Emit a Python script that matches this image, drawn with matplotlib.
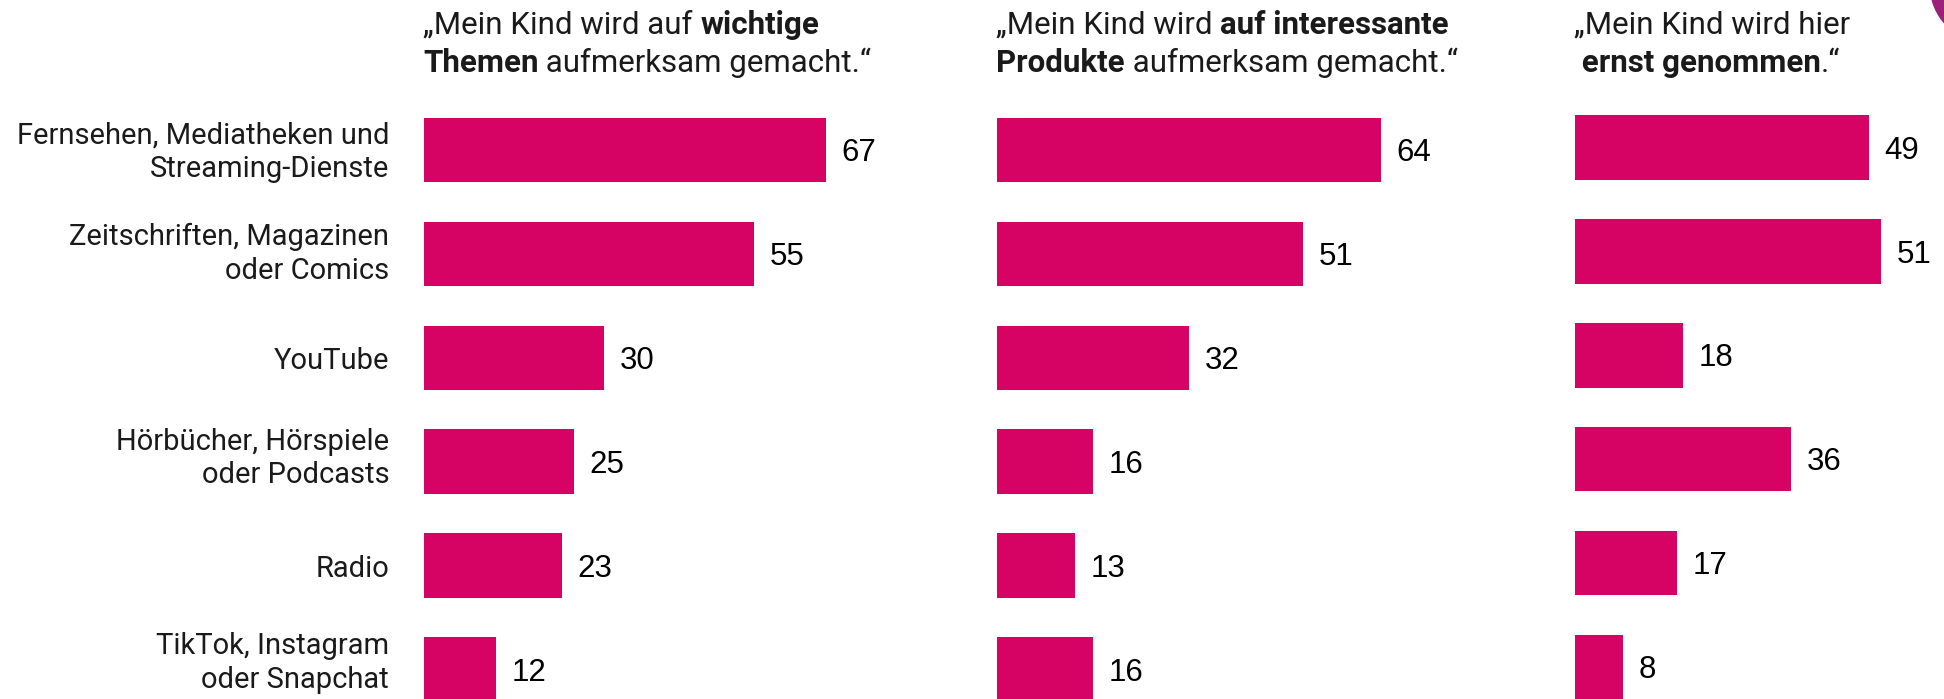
# Mediennutzung: drei Aussagen der Eltern, horizontale Balken
import matplotlib.pyplot as plt
from matplotlib.patches import Circle
from matplotlib.transforms import IdentityTransform

# Daten
categories = ["Fernsehen, Mediatheken und\nStreaming-Dienste",
              "Zeitschriften, Magazinen\noder Comics",
              "YouTube",
              "Hörbücher, Hörspiele\noder Podcasts",
              "Radio",
              "TikTok, Instagram\noder Snapchat"]
themen = [67, 55, 30, 25, 23, 12]
produkte = [64, 51, 32, 16, 13, 16]
ernst = [49, 51, 18, 36, 17, 8]

titles = [
    [[("„Mein Kind wird auf ", "normal"), ("wichtige", "bold")],
     [("Themen", "bold"), (" aufmerksam gemacht.“", "normal")]],
    [[("„Mein Kind wird ", "normal"), ("auf interessante", "bold")],
     [("Produkte", "bold"), (" aufmerksam gemacht.“", "normal")]],
    [[("„Mein Kind wird hier", "normal")],
     [(" ernst genommen", "bold"), (".“", "normal")]],
]

BAR = "#d70364"
TXT = "#1a1a1a"
W, H = 1944, 699

fig = plt.figure(figsize=(W / 100, H / 100), dpi=100)
fig.patch.set_facecolor("white")

left_px = [424, 997, 1575]
top_center = [150, 150, 147.5]
step = 103.9
series = [themen, produkte, ernst]

for i, vals in enumerate(series):
    ax = fig.add_axes([left_px[i] / W, 0, 480 / W, 1])
    ax.set_xlim(0, 80)
    c0 = top_center[i]
    ax.set_ylim((H - c0) / step, -c0 / step)
    ypos = range(len(vals))
    ax.barh(ypos, vals, height=0.62, color=BAR, clip_on=False)
    for y, v in zip(ypos, vals):
        ax.text(v + 2.6, y + 0.03, str(v), fontsize=22.5, color="black",
                family="Liberation Sans", va="center", ha="left")
    if i == 0:
        # zweizeilige Beschriftungen stehen etwas enger als die Balken
        for y, lab in zip(ypos, categories):
            yy = y * 0.983 + 0.02 if "\n" in lab else y + 0.03
            ax.text(-5.8, yy, lab, fontsize=21, color=TXT,
                    family="Roboto", ha="right", va="center",
                    linespacing=1.27)
    ax.axis("off")

    # Titel mit fett gesetzten Teilen
    tx = (left_px[i] - 1) / W
    for j, line in enumerate(titles[i]):
        base = 1 - (34 + 38 * j) / H
        prev = None
        for s, w in line:
            if prev is None:
                prev = fig.text(tx, base, s, fontsize=22.5, fontweight=w,
                                family="Roboto", color=TXT, va="baseline")
            else:
                prev = ax.annotate(s, xy=(1, 0), xycoords=prev, fontsize=22.5,
                                   fontweight=w, family="Roboto", color=TXT,
                                   va="bottom", ha="left",
                                   annotation_clip=False)

# lila Kreisrest oben rechts
fig.add_artist(Circle((1990, H + 16), 60, transform=IdentityTransform(),
                      color="#9c1f7c", clip_on=False))

fig.savefig("out.png", dpi=100, facecolor="white")
